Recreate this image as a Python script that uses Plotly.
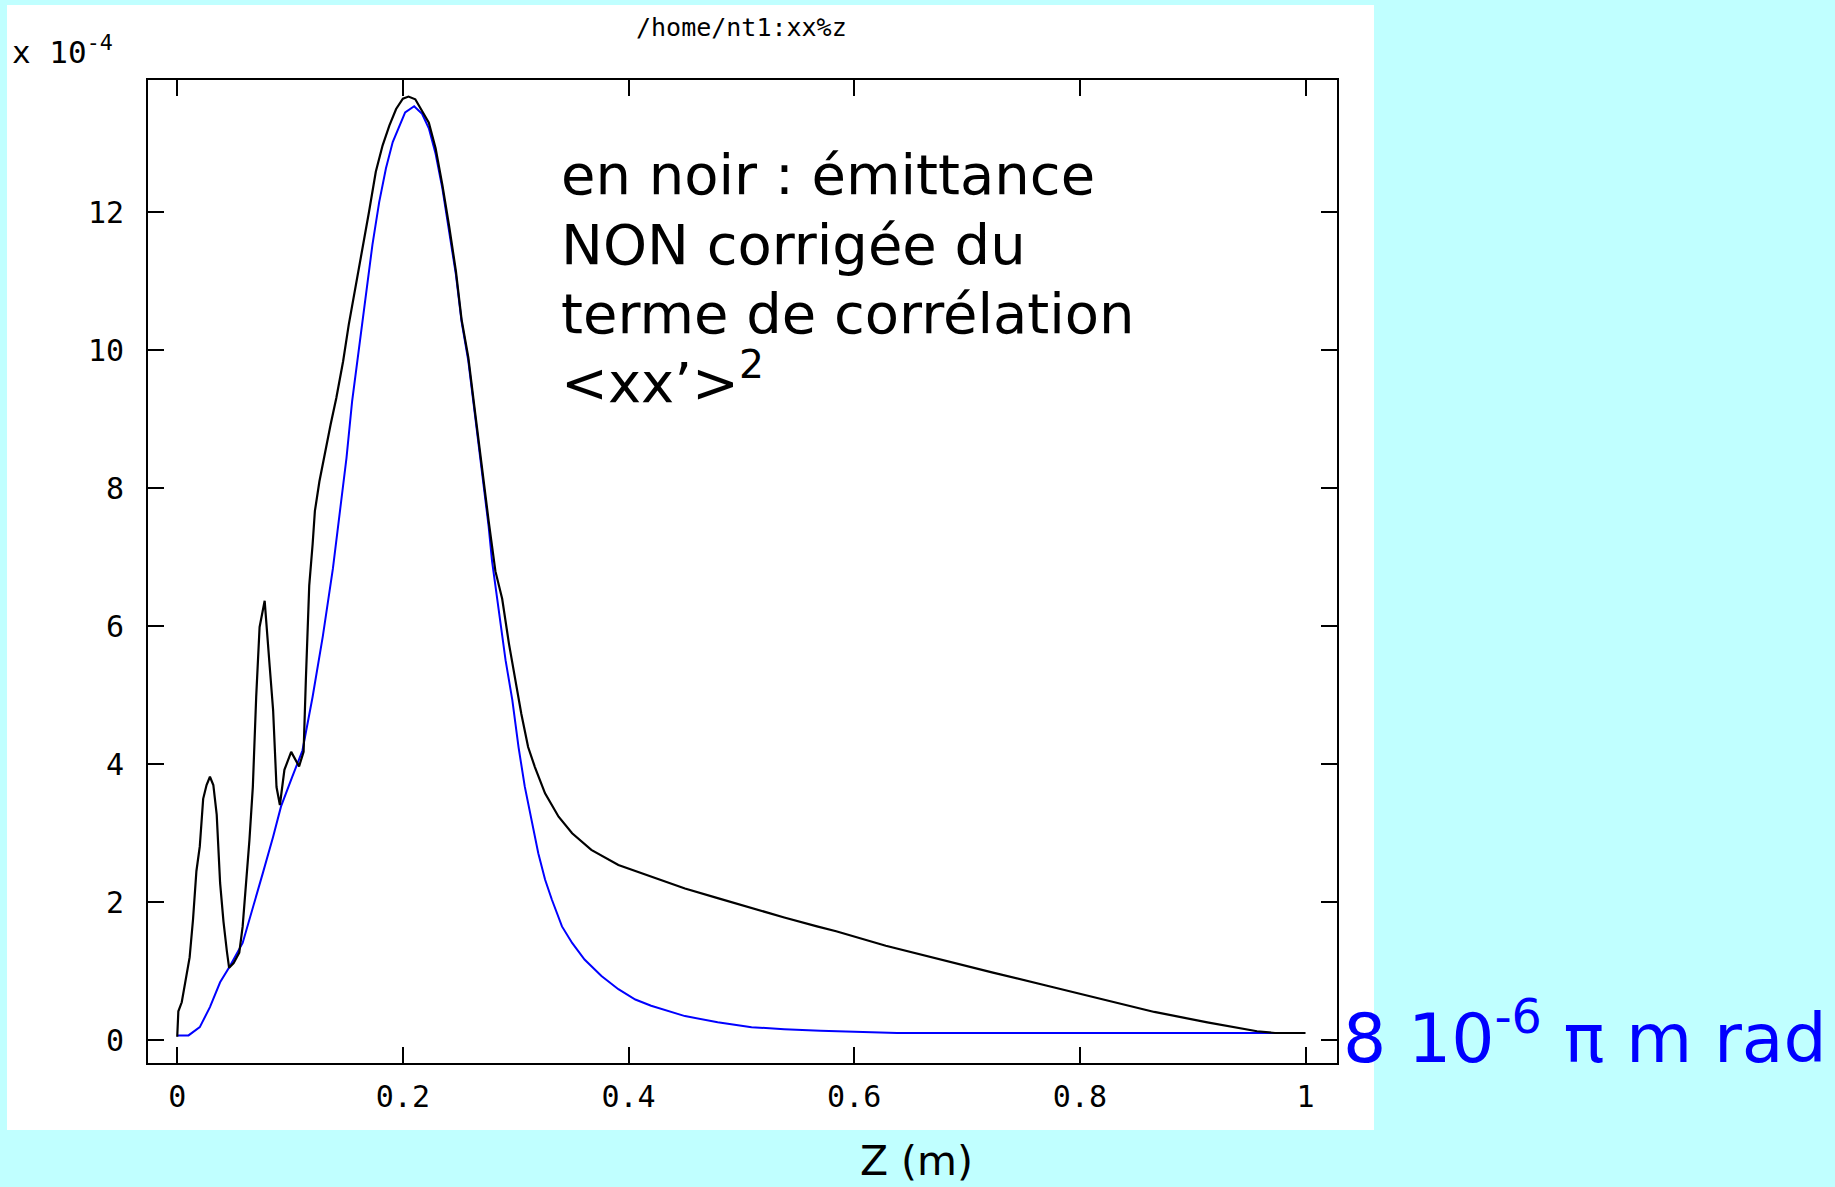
import plotly.graph_objects as go

# z (m) and emittance (x 1e-4), black = not corrected, blue = corrected
z_noir = [0, 0.001, 0.004, 0.008, 0.011, 0.014, 0.017, 0.020, 0.023, 0.026, 0.029, 0.032, 0.035,
          0.038, 0.041, 0.044, 0.046, 0.050, 0.055, 0.058, 0.061, 0.064, 0.067, 0.070, 0.073,
          0.0775, 0.082, 0.085, 0.088, 0.091, 0.095, 0.101, 0.108, 0.112, 0.114, 0.117, 0.120,
          0.122, 0.126, 0.130, 0.136, 0.141, 0.147, 0.152, 0.158, 0.164, 0.170, 0.176, 0.182,
          0.188, 0.194, 0.200, 0.205, 0.211, 0.217, 0.223, 0.229, 0.235, 0.241, 0.247, 0.252,
          0.258, 0.264, 0.270, 0.276, 0.282, 0.288, 0.294, 0.300, 0.305, 0.311, 0.317, 0.326,
          0.338, 0.350, 0.367, 0.391, 0.420, 0.450, 0.479, 0.508, 0.538, 0.567, 0.584, 0.628,
          0.676, 0.723, 0.771, 0.818, 0.866, 0.913, 0.957, 0.973, 1.0]
emit_noir = [0.05, 0.42, 0.55, 0.9, 1.2, 1.75, 2.45, 2.81, 3.5, 3.7, 3.82, 3.7, 3.27,
             2.28, 1.72, 1.29, 1.05, 1.12, 1.27, 1.65, 2.28, 2.9, 3.67, 4.98, 5.99,
             6.37, 5.41, 4.78, 3.67, 3.41, 3.92, 4.18, 3.97, 4.18, 5.22, 6.59, 7.19,
             7.67, 8.1, 8.44, 8.93, 9.31, 9.84, 10.37, 10.9, 11.48, 12.01, 12.59, 12.97,
             13.26, 13.5, 13.65, 13.68, 13.64, 13.48, 13.3, 12.93, 12.4, 11.8, 11.15, 10.45,
             9.9, 9.1, 8.3, 7.53, 6.8, 6.4, 5.75, 5.2, 4.73, 4.25, 3.96, 3.58,
             3.24, 3.0, 2.76, 2.54, 2.37, 2.2, 2.06, 1.92, 1.78, 1.65, 1.58, 1.37,
             1.17, 0.98, 0.79, 0.6, 0.41, 0.26, 0.13, 0.105, 0.105]

z_bleu = [0, 0.010, 0.020, 0.029, 0.038, 0.0465, 0.058, 0.067, 0.076, 0.085, 0.092, 0.102,
          0.111, 0.120, 0.129, 0.138, 0.144, 0.150, 0.155, 0.161, 0.167, 0.173, 0.179, 0.185,
          0.191, 0.197, 0.202, 0.210, 0.217, 0.223, 0.229, 0.235, 0.241, 0.247, 0.252, 0.258,
          0.264, 0.270, 0.276, 0.279, 0.285, 0.291, 0.297, 0.3025, 0.308, 0.314, 0.320, 0.326,
          0.332, 0.341, 0.350, 0.361, 0.376, 0.391, 0.406, 0.420, 0.450, 0.479, 0.509, 0.538,
          0.570, 0.638, 0.973]
emit_bleu = [0.07, 0.07, 0.19, 0.48, 0.84, 1.07, 1.41, 1.94, 2.43, 2.95, 3.39, 3.82,
             4.2, 4.98, 5.85, 6.84, 7.63, 8.44, 9.26, 10.03, 10.81, 11.53, 12.15, 12.64,
             13.02, 13.26, 13.45, 13.54, 13.43, 13.22, 12.85, 12.35, 11.75, 11.1, 10.42, 9.85,
             9.05, 8.25, 7.45, 6.95, 6.23, 5.51, 4.93, 4.25, 3.68, 3.19, 2.71, 2.33,
             2.04, 1.65, 1.41, 1.17, 0.93, 0.74, 0.59, 0.5, 0.35, 0.26, 0.19, 0.16,
             0.138, 0.105, 0.105]

x_ticks = [0, 0.2, 0.4, 0.6, 0.8, 1]
x_labels = ['0', '0.2', '0.4', '0.6', '0.8', '1']
y_ticks = [0, 2, 4, 6, 8, 10, 12]

W, H = 1835, 1187
L, R, T, B = 148, 498, 80, 124


def px(x):
    return (x - L) / (W - L - R)


def py(y):
    return (H - B - y) / (H - T - B)


mono = 'DejaVu Sans Mono'
sans = 'DejaVu Sans'

fig = go.Figure()
fig.add_trace(go.Scatter(x=z_bleu, y=emit_bleu, mode='lines',
                         line=dict(color='#0000ff', width=2), showlegend=False))
fig.add_trace(go.Scatter(x=z_noir, y=emit_noir, mode='lines',
                         line=dict(color='black', width=2.2), showlegend=False))

fig.add_shape(type='rect', xref='paper', yref='paper', layer='below',
              x0=px(7), x1=px(1374), y0=py(1130), y1=py(5),
              fillcolor='white', line=dict(width=0))

notes = [
    dict(text='/home/nt1:xx%z', x=px(741), y=py(27), xanchor='center',
         font=dict(family=mono, size=25, color='black')),
    dict(text='x 10<sup>-4</sup>', x=px(10), y=py(50), xanchor='left',
         font=dict(family=mono, size=31, color='black')),
    dict(text='en noir : émittance', x=px(559), y=py(174), xanchor='left',
         font=dict(family=sans, size=56, color='black')),
    dict(text='NON corrigée du', x=px(559), y=py(244), xanchor='left',
         font=dict(family=sans, size=56, color='black')),
    dict(text='terme de corrélation', x=px(559), y=py(313), xanchor='left',
         font=dict(family=sans, size=56, color='black')),
    dict(text='&lt;xx’&gt;<sup>2</sup>', x=px(559), y=py(378), xanchor='left',
         font=dict(family=sans, size=56, color='black')),
    dict(text='8 10<sup>-6</sup> π m rad', x=px(1341), y=py(1033), xanchor='left',
         font=dict(family=sans, size=68, color='#0000ff')),
    dict(text='Z (m)', x=px(916), y=py(1161), xanchor='center',
         font=dict(family=sans, size=41, color='black')),
]
for n in notes:
    fig.add_annotation(xref='paper', yref='paper', yanchor='middle', showarrow=False, **n)

fig.update_layout(
    width=W, height=H,
    margin=dict(l=L, r=R, t=T, b=B),
    paper_bgcolor='#c0ffff',
    plot_bgcolor='white',
)
fig.update_xaxes(range=[-0.0259, 1.0279], tickvals=x_ticks, ticktext=x_labels,
                 ticks='inside', ticklen=16, tickwidth=2, tickcolor='black',
                 showline=True, linewidth=2, linecolor='black', mirror='ticks',
                 showgrid=False, zeroline=False, ticklabelstandoff=6,
                 tickfont=dict(family=mono, size=30, color='black'))
fig.update_yaxes(range=[-0.33, 13.92], tickvals=y_ticks,
                 ticks='inside', ticklen=16, tickwidth=2, tickcolor='black',
                 showline=True, linewidth=2, linecolor='black', mirror='ticks',
                 showgrid=False, zeroline=False, ticklabelstandoff=16,
                 tickfont=dict(family=mono, size=30, color='black'))

fig.write_html("out.html", config={'displayModeBar': False},
               post_script="document.body.style.margin='0';")
